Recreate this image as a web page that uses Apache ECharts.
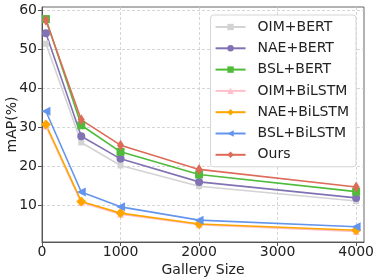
<!DOCTYPE html>
<html>
<head>
<meta charset="utf-8">
<script src="https://cdn.jsdelivr.net/npm/echarts@6/dist/echarts.min.js"></script>
<style>
  html, body { margin: 0; padding: 0; background: #fff; }
  #chart { width: 374px; height: 280px; }
</style>
</head>
<body>
<div id="chart"></div>
<script>
// gallery size vs mAP
var gallerySizes = [50, 500, 1000, 2000, 4000];
var xTicks = [0, 1000, 2000, 3000, 4000];
var yTicks = [10, 20, 30, 40, 50, 60];

var oimBert = [51.5, 26.2, 20.3, 15.0, 11.2];
var naeBert = [54.2, 27.8, 22.0, 16.1, 12.0];
var bslBert = [57.8, 30.6, 23.8, 18.0, 13.6];
var oimBilstm = [30.4, 10.8, 7.8, 5.1, 3.4];
var naeBilstm = [30.8, 11.1, 8.1, 5.3, 3.7];
var bslBilstm = [34.2, 13.5, 9.7, 6.3, 4.6];
var ours = [57.5, 32.0, 25.5, 19.3, 14.8];

var font = 'DejaVu Sans';

(function() {
  var chart = echarts.init(document.getElementById('chart'), null, { renderer: 'canvas' });

  function mk(name, values, color, symbol, size, rotate) {
    return {
      name: name,
      type: 'line',
      data: gallerySizes.map(function(g, i) { return [g, values[i]]; }),
      symbol: symbol,
      symbolSize: size,
      symbolRotate: rotate || 0,
      showAllSymbol: true,
      lineStyle: { color: color, width: 1.6 },
      itemStyle: { color: color, borderWidth: 0 },
      emphasis: { disabled: true }
    };
  }

  chart.setOption({
    animation: false,
    grid: {
      left: 42, right: 10, top: 7, bottom: 38,
      outerBoundsMode: 'none',
      containLabel: false,
      show: true, borderColor: '#666', borderWidth: 1, backgroundColor: 'transparent'
    },
    legend: {
      orient: 'vertical',
      right: 18,
      top: 15,
      itemWidth: 30,
      itemHeight: 8,
      itemGap: 7.3,
      padding: [5, 7, 5, 4],
      backgroundColor: '#fff',
      borderColor: '#d6d6d6',
      borderWidth: 1,
      borderRadius: 3,
      textStyle: { fontFamily: font, fontSize: 14, color: '#222', padding: [0, 0, 0, 7] }
    },
    xAxis: {
      type: 'value',
      min: 0,
      max: 4100,
      name: 'Gallery Size',
      nameLocation: 'middle',
      nameGap: 21,
      nameMoveOverlap: false,
      nameTextStyle: { fontFamily: font, fontSize: 14, color: '#222' },
      axisLine: { lineStyle: { color: '#555', width: 1 } },
      axisTick: { show: true, customValues: xTicks, length: 4, lineStyle: { color: '#555' } },
      axisLabel: {
        customValues: xTicks, fontFamily: font, fontSize: 14, color: '#222', margin: 3,
        formatter: function(v) { return String(v); }
      },
      splitLine: { show: true, lineStyle: { color: '#cccccc', type: [3, 2], width: 0.8 } }
    },
    yAxis: {
      type: 'value',
      min: 0.7,
      max: 60.9,
      name: 'mAP(%)',
      nameLocation: 'middle',
      nameGap: 23,
      nameMoveOverlap: false,
      nameTextStyle: { fontFamily: font, fontSize: 14, color: '#222' },
      axisLine: { show: true, lineStyle: { color: '#555', width: 1 } },
      axisTick: { show: true, customValues: yTicks, length: 4, lineStyle: { color: '#555' } },
      axisLabel: { customValues: yTicks, fontFamily: font, fontSize: 14, color: '#222', margin: 5 },
      splitLine: { show: true, lineStyle: { color: '#cccccc', type: [3, 2], width: 0.8 } }
    },
    series: [
      mk('OIM+BERT', oimBert, '#d3d3d3', 'rect', 6),
      mk('NAE+BERT', naeBert, '#8172b3', 'circle', 8),
      mk('BSL+BERT', bslBert, '#4fbb3a', 'rect', 8),
      mk('OIM+BiLSTM', oimBilstm, '#ffc0cb', 'triangle', 7),
      mk('NAE+BiLSTM', naeBilstm, '#ffa500', 'diamond', 10),
      mk('BSL+BiLSTM', bslBilstm, '#6495ed', 'triangle', 9, 90),
      mk('Ours', ours, '#dd6b58', 'diamond', [7, 11])
    ]
  });

  window.addEventListener('resize', function() { chart.resize(); });
})();
</script>
</body>
</html>
